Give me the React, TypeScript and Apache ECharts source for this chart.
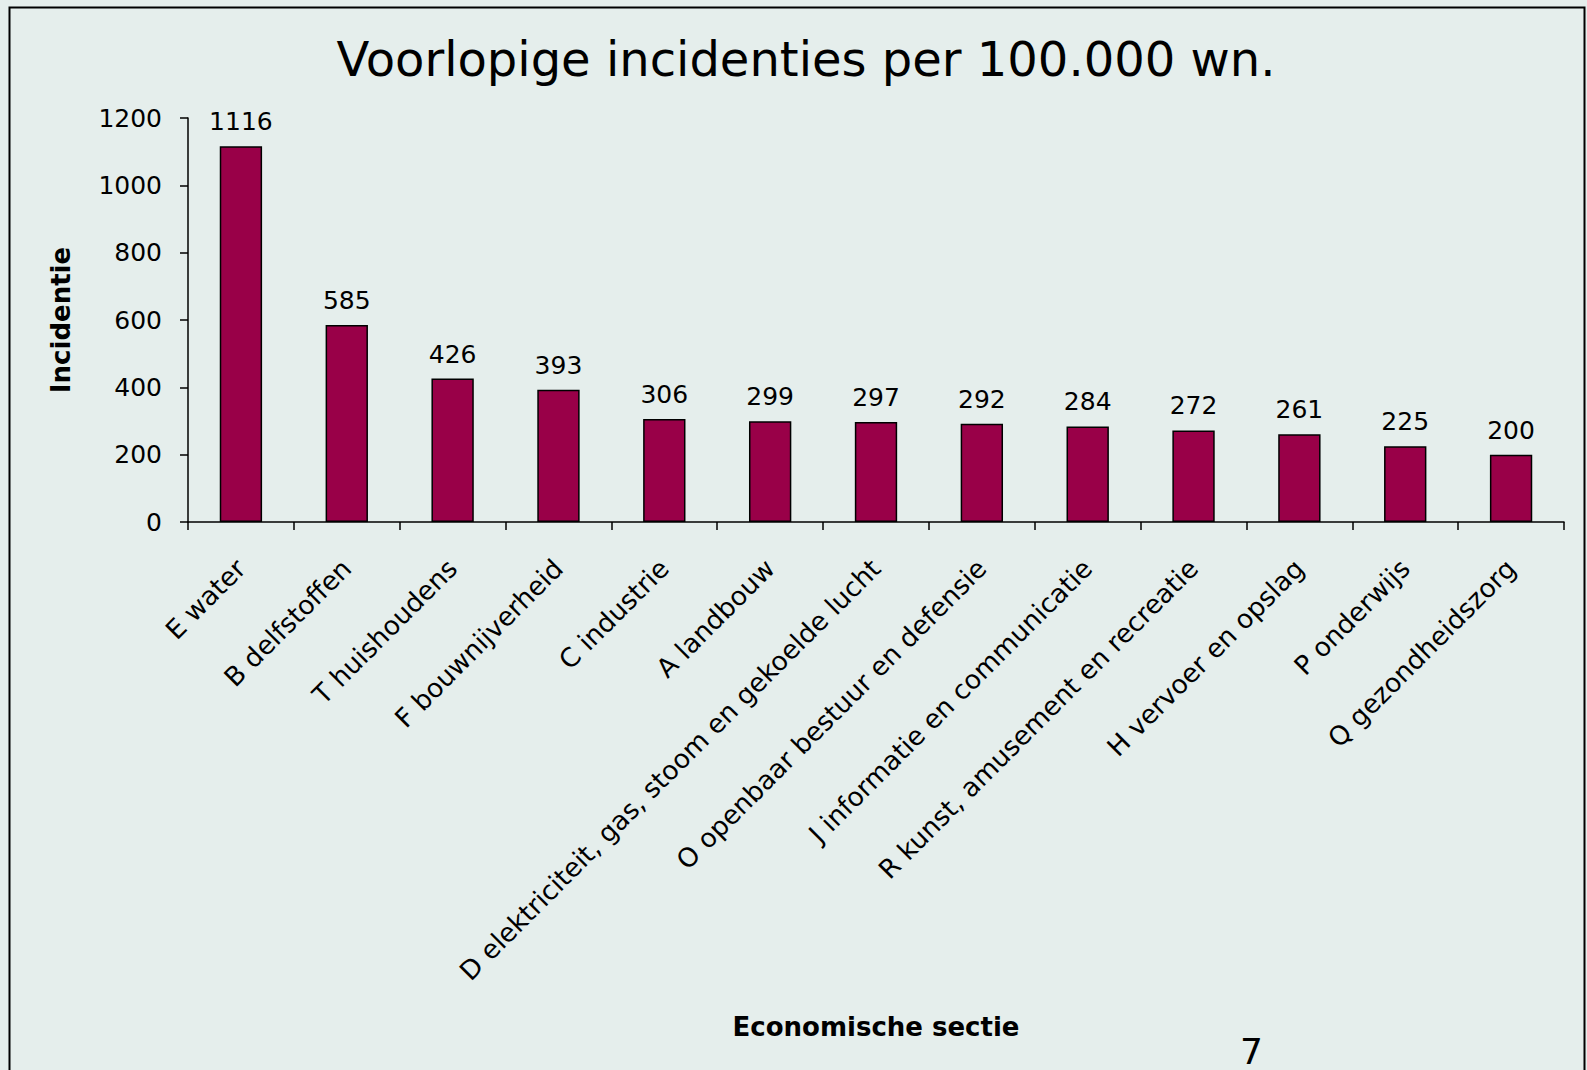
import React, { useEffect, useRef } from "react";
import * as echarts from "echarts";

const categories = [
  "E water",
  "B delfstoffen",
  "T huishoudens",
  "F bouwnijverheid",
  "C industrie",
  "A landbouw",
  "D elektriciteit, gas, stoom en gekoelde lucht",
  "O openbaar bestuur en defensie",
  "J informatie en communicatie",
  "R kunst, amusement en recreatie",
  "H vervoer en opslag",
  "P onderwijs",
  "Q gezondheidszorg",
];
const values = [1116, 585, 426, 393, 306, 299, 297, 292, 284, 272, 261, 225, 200];
const titleText = "Voorlopige incidenties per 100.000 wn.";
const yAxisName = "Incidentie";
const xAxisName = "Economische sectie";
const pageNumber = "7";

const FONT = "DejaVu Sans";

export default function App() {
  const ref = useRef<HTMLDivElement>(null);
  useEffect(() => {
    document.body.style.margin = "0";
    const chart = echarts.init(ref.current!, null, { renderer: "svg" });
    chart.setOption({
      animation: false,
      backgroundColor: "#e5eeec",
      textStyle: { fontFamily: FONT, color: "#000" },
      title: {
        text: titleText,
        left: 801,
        top: 30,
        textAlign: "center",
        textStyle: { fontFamily: FONT, fontSize: 48, fontWeight: "normal", color: "#000" },
      },
      graphic: [
        {
          type: "rect",
          shape: { x: 9.5, y: 7.5, width: 1575, height: 1100 },
          style: { fill: "none", stroke: "#000", lineWidth: 2 },
          silent: true,
        },
        {
          type: "text",
          left: 1240,
          top: 1033,
          style: { text: pageNumber, fontFamily: FONT, fontSize: 36, lineHeight: 34, fill: "#000" },
        },
      ],
      grid: { left: 188, top: 118, right: 23, bottom: 548, containLabel: false },
      xAxis: {
        type: "category",
        data: categories,
        name: xAxisName,
        nameLocation: "middle",
        nameGap: 492,
        nameTextStyle: { fontFamily: FONT, fontSize: 26, fontWeight: "bold", color: "#000" },
        axisLine: { lineStyle: { color: "#000", width: 1.5 } },
        axisTick: { show: true, length: 8, alignWithLabel: false, lineStyle: { color: "#000", width: 1.5 } },
        axisLabel: {
          interval: 0,
          rotate: 45,
          margin: 42,
          fontFamily: FONT,
          fontSize: 26.3,
          color: "#000",
        },
      },
      yAxis: {
        type: "value",
        min: 0,
        max: 1200,
        interval: 200,
        name: yAxisName,
        nameLocation: "middle",
        nameGap: 114,
        nameRotate: 90,
        nameTextStyle: { fontFamily: FONT, fontSize: 26, fontWeight: "bold", color: "#000" },
        splitLine: { show: false },
        axisLine: { show: true, lineStyle: { color: "#000", width: 1.5 } },
        axisTick: { show: true, length: 8, lineStyle: { color: "#000", width: 1.5 } },
        axisLabel: {
          margin: 26,
          fontFamily: FONT,
          fontSize: 25,
          color: "#000",
          formatter: (v: number) => String(v),
        },
      },
      series: [
        {
          type: "bar",
          data: values,
          barWidth: "40%",
          itemStyle: { color: "#990048", borderColor: "#000", borderWidth: 1.5 },
          label: {
            show: true,
            position: "top",
            distance: 12,
            fontFamily: FONT,
            fontSize: 25,
            color: "#000",
          },
        },
      ],
    });
    return () => chart.dispose();
  }, []);
  return (
    <div
      ref={ref}
      style={{ position: "fixed", left: 0, top: 0, width: 1587, height: 1070 }}
    />
  );
}
